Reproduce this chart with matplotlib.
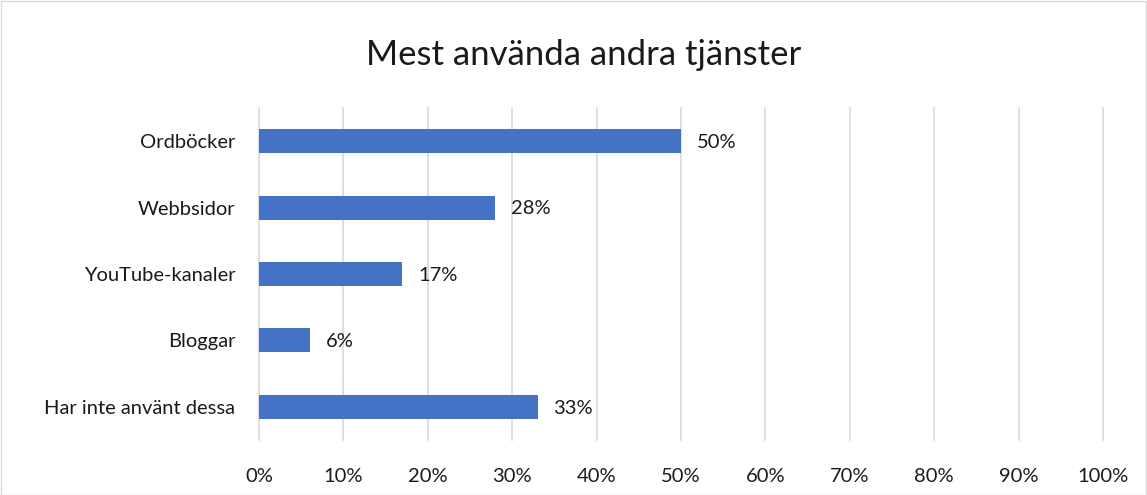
import matplotlib.pyplot as plt
from matplotlib.ticker import FuncFormatter

categories = ["Ordböcker", "Webbsidor", "YouTube-kanaler", "Bloggar", "Har inte använt dessa"]
values = [50, 28, 17, 6, 33]
xticks = list(range(0, 101, 10))

plt.rcParams["font.family"] = ["Lato", "DejaVu Sans"]

fig = plt.figure(figsize=(11.47, 4.95), dpi=100)
ax = fig.add_axes([259 / 1147, 1 - 440 / 495, (1103 - 259) / 1147, 332 / 495])

y = list(range(len(categories)))[::-1]
ax.barh(y, values, height=0.36, color="#4472C4", zorder=3)
for yi, v in zip(y, values):
    ax.text(v + 1.9, yi - 0.02, f"{v}%", va="center", ha="left", fontsize=14.5, color="#1a1a1a")

ax.set_xlim(0, 100)
ax.set_ylim(-0.5, 4.5)
ax.set_xticks(xticks)
ax.xaxis.set_major_formatter(FuncFormatter(lambda v, p: f"{v:.0f}%"))
ax.set_yticks(y)
ax.set_yticklabels(categories)
ax.tick_params(axis="both", length=0, labelsize=14.5, colors="#1a1a1a")
ax.tick_params(axis="y", pad=17)
ax.tick_params(axis="x", pad=20)
ax.grid(axis="x", color="#d9d9d9", lw=1.2, zorder=0)
for gl in ax.get_xgridlines():
    gl.set_clip_on(False)
for s in ax.spines.values():
    s.set_visible(False)

fig.text(584 / 1147, 1 - 55 / 495, "Mest använda andra tjänster", ha="center", va="center",
         fontsize=25, color="#1a1a1a")
fig.patches.append(plt.Rectangle((0.001, 0.001), 0.998, 0.997, transform=fig.transFigure,
                                 fill=False, edgecolor="#d9d9d9", lw=1))
fig.savefig("out.png", dpi=100)
